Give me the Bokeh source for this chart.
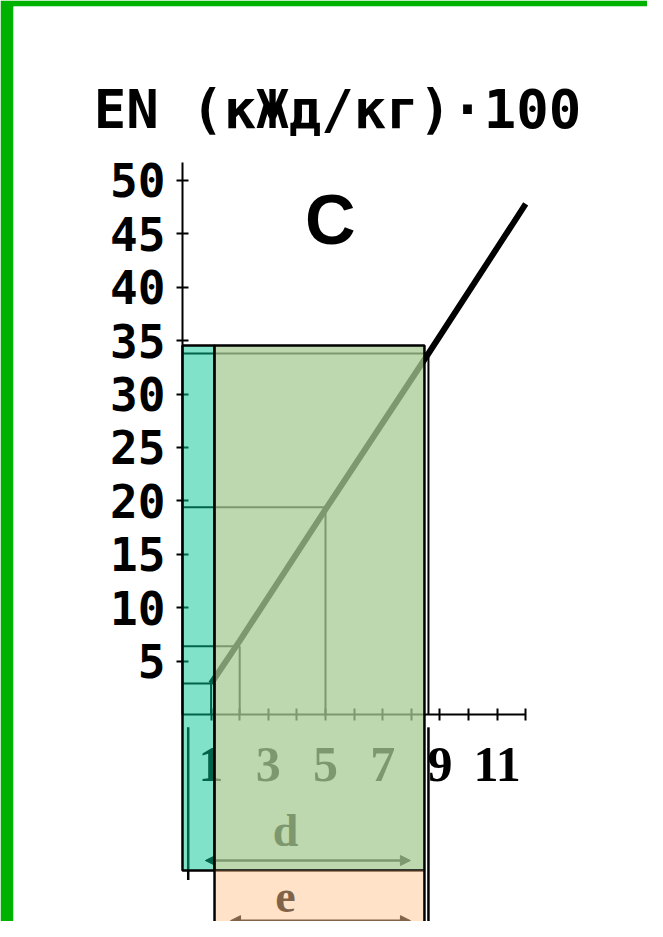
from bokeh.plotting import figure
from bokeh.models import Range1d, FixedTicker, Arrow, NormalHead
from bokeh.core.properties import value
from bokeh.embed import file_html
from bokeh.resources import INLINE

# ---- texts ----
title_text = "EN (кЖд/кг)·100"
panel_letter = "C"
dim_labels = ["d", "e"]

# ---- ticks ----
y_ticks = [5, 10, 15, 20, 25, 30, 35, 40, 45, 50]
x_label_ticks = [1, 3, 5, 7, 9, 11]
x_minor_ticks = [2, 4, 6, 8, 10, 12]

# ---- curve ----
line_x = [1, 2, 5, 8.6, 12]
line_y = [2.9, 6.9, 19.2, 33.8, 47.8]

# ---- reading lines (drop lines) ----
drop_x = [1, 2, 5, 8.6]
drop_y = [2.9, 6.4, 19.4, 33.8]

# ---- shaded bands ----
teal_band = [0, 1.12]
green_band = [1.12, 8.46]
band_top = 34.55
band_bottom = -14.6
peach_bottom = -21.5

# ---- dimension arrows ----
d_arrow = [0.8, 7.97, -13.67]
e_arrow = [1.68, 7.97, -19.3]
ext_x = [0.2, 8.6]
ext_top = [-1.2, -1.2]
ext_bottom = [-15.5, -20.2]

p = figure(width=647, height=921, output_backend="svg", toolbar_location=None,
           x_range=Range1d(-5.909, 16.259), y_range=Range1d(-19.38, 66.29),
           min_border_left=13, min_border_right=0, min_border_top=6, min_border_bottom=0,
           border_fill_color="#00B200", background_fill_color="white",
           outline_line_color=None)
p.grid.visible = False

# x axis at y = 0
xa = p.xaxis[0]
xa.fixed_location = 0
xa.bounds = (0, 12)
xa.ticker = FixedTicker(ticks=x_label_ticks, minor_ticks=x_minor_ticks)
xa.axis_line_width = 2
xa.axis_line_color = "black"
xa.major_tick_line_width = 2
xa.minor_tick_line_width = 2
xa.major_tick_line_color = "black"
xa.minor_tick_line_color = "black"
xa.major_tick_in = 6
xa.major_tick_out = 6
xa.minor_tick_in = 6
xa.minor_tick_out = 6
xa.major_label_standoff = 27
xa.major_label_text_font = "Liberation Serif"
xa.major_label_text_font_style = "bold"
xa.major_label_text_font_size = "50px"
xa.major_label_text_color = "black"

# y axis at x = 0
ya = p.yaxis[0]
ya.fixed_location = 0
ya.bounds = (0, 51.7)
ya.ticker = FixedTicker(ticks=y_ticks, minor_ticks=[])
ya.axis_line_width = 2
ya.axis_line_color = "black"
ya.major_tick_line_width = 2
ya.major_tick_line_color = "black"
ya.major_tick_in = 6
ya.major_tick_out = 6
ya.major_label_standoff = 11
ya.major_label_text_font = "DejaVu Sans Mono"
ya.major_label_text_font_style = "bold"
ya.major_label_text_font_size = "46px"
ya.major_label_text_color = "black"

# drop lines
p.segment(x0=[0] * len(drop_y), y0=drop_y, x1=drop_x, y1=drop_y,
          line_color="black", line_width=2)
p.segment(x0=drop_x, y0=[0] * len(drop_x), x1=drop_x, y1=drop_y,
          line_color="black", line_width=2)

# curve
p.line(line_x, line_y, line_color="black", line_width=6)

# extension lines for dimensions
p.segment(x0=ext_x, y0=ext_top, x1=ext_x, y1=ext_bottom,
          line_color="black", line_width=2.5)

# dimension arrows
for xs, xe, yy in (d_arrow, e_arrow):
    p.add_layout(Arrow(x_start=xs, x_end=xe, y_start=yy, y_end=yy,
                       line_color="black", line_width=2.5,
                       start=NormalHead(size=10, fill_color="black", line_color="black"),
                       end=NormalHead(size=10, fill_color="black", line_color="black"),
                       level="glyph"))

p.text(x=[3.6, 3.6], y=[-10.9, -17.0], text=dim_labels,
       text_font=value("Liberation Serif"), text_font_style="bold",
       text_font_size="46px", text_align="center", text_baseline="middle",
       text_color="black")

# title and panel letter
p.text(x=[5.42], y=[56.6], text=[title_text], text_font=value("DejaVu Sans Mono"),
       text_font_style="bold", text_font_size="54px", text_align="center",
       text_baseline="middle", text_color="black")
p.text(x=[5.17], y=[46.3], text=[panel_letter], text_font=value("Liberation Sans"),
       text_font_style="bold", text_font_size="70px", text_align="center",
       text_baseline="middle", text_color="black")

# shaded bands (translucent overlays)
p.quad(left=[teal_band[0]], right=[teal_band[1]], top=[band_top], bottom=[band_bottom],
       fill_color="#01C591", fill_alpha=0.5, line_color="black", line_width=2.5,
       level="annotation")
p.quad(left=[green_band[0]], right=[green_band[1]], top=[band_top], bottom=[band_bottom],
       fill_color="#A7CA93", fill_alpha=0.75, line_color="black", line_width=2.5,
       level="annotation")
p.quad(left=[green_band[0]], right=[green_band[1]], top=[band_bottom], bottom=[peach_bottom],
       fill_color="#FFC591", fill_alpha=0.5, line_color=None,
       level="annotation")
p.segment(x0=green_band, y0=[band_bottom, band_bottom], x1=green_band,
          y1=[peach_bottom, peach_bottom], line_color="black", line_width=2.5,
          level="annotation")

open("out.html", "w").write(file_html(p, INLINE))
